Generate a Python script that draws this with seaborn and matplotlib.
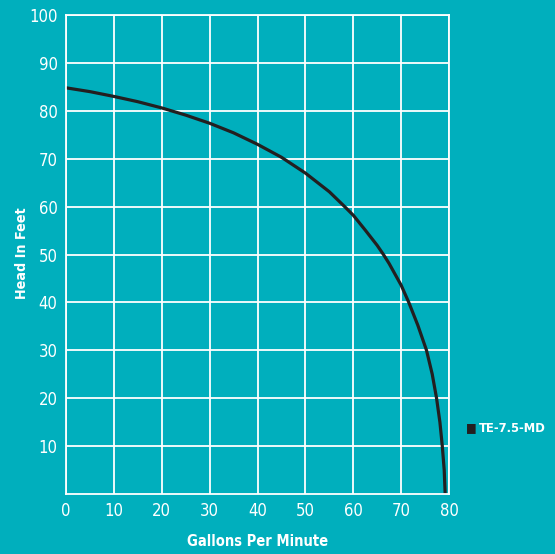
import matplotlib
matplotlib.use("Agg")
import matplotlib.pyplot as plt
import seaborn as sns
import pandas as pd
from matplotlib.font_manager import fontManager

gpm = [0, 5, 10, 15, 20, 25, 30, 35, 40, 45, 50, 55, 58.2, 60, 62.5, 65, 66.3, 67.5,
       70, 71.6, 73.5, 75.3, 76.5, 77.4, 78.1, 78.6, 79.0, 79.2]
head = [84.8, 84.0, 83.0, 81.9, 80.6, 79.1, 77.4, 75.4, 73.0, 70.3, 67.0, 63.1, 60.0, 58.2, 55.1, 51.9, 50.0, 48.1,
        43.6, 40.0, 35.2, 30.0, 25.0, 20.0, 15.0, 10.0, 5.0, 0.0]
series_name = "TE-7.5-MD"
x_ticks = [0, 10, 20, 30, 40, 50, 60, 70, 80]
y_ticks = [10, 20, 30, 40, 50, 60, 70, 80, 90, 100]

BG = "#00AFBD"
sns.set_theme(style="white")
has_cond = any(f.name == "DejaVu Sans" and f.stretch == "condensed" for f in fontManager.ttflist)
plt.rcParams["font.family"] = ["DejaVu Sans"]
if has_cond:
    plt.rcParams["font.stretch"] = "condensed"

df = pd.DataFrame({"gpm": gpm, "head": head, "series": series_name})

fig = plt.figure(figsize=(5.55, 5.54), dpi=100, facecolor=BG)
ax = fig.add_axes([66/555, 1 - 494/554, (449-66)/555, (494-15)/554])
ax.set_facecolor(BG)

sns.lineplot(data=df, x="gpm", y="head", color="#231F20", linewidth=2.3, ax=ax, sort=False, legend=False)

ax.set_xlim(0, 80)
ax.set_ylim(0, 100)
ax.set_xticks(x_ticks)
ax.set_yticks(y_ticks)
ax.grid(True, color="white", linewidth=1.3)
ax.set_axisbelow(True)
for s in ax.spines.values():
    s.set_color("white")
    s.set_linewidth(1.3)
ax.tick_params(colors="white", labelsize=12, length=0, pad=6)
for lab in ax.get_xticklabels() + ax.get_yticklabels():
    lab.set_color("white")

ax.set_xlabel("")
ax.set_ylabel("")
fig.text(257.5/555, 1 - 541/554, "Gallons Per Minute", color="white", fontsize=10.5,
         fontweight="bold", ha="center", va="center")
fig.text(22/555, 1 - 253/554, "Head In Feet", color="white", fontsize=10.3,
         fontweight="bold", ha="center", va="center", rotation=90)

# legend
fig.text(466/555, 1 - 428/554, "\u25A0", color="#231F20", fontsize=9, va="center", ha="left")
fig.text(479/555, 1 - 428/554, series_name, color="white", fontsize=9.3, fontweight="bold",
         va="center", ha="left")

fig.savefig("out.png", dpi=100, facecolor=BG)
